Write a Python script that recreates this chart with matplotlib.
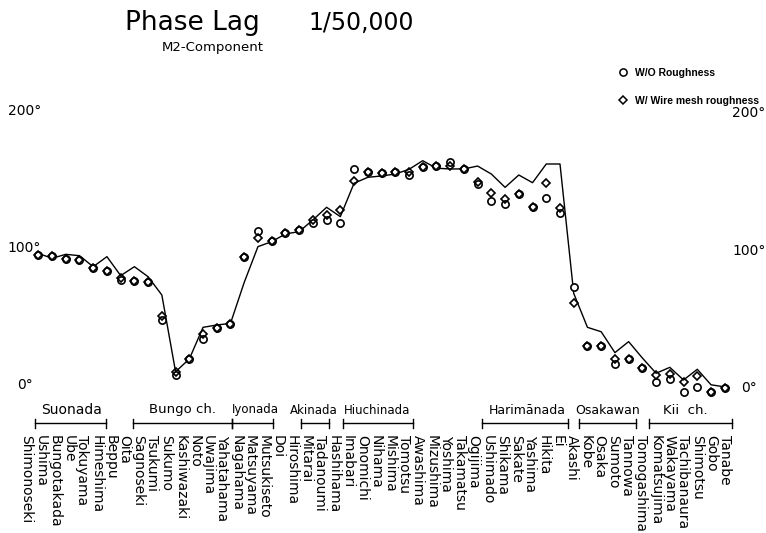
import numpy as np
import matplotlib
matplotlib.use("Agg")
import matplotlib.pyplot as plt
from matplotlib.transforms import blended_transform_factory
from matplotlib.lines import Line2D

# ---------------- data ----------------
stations = ["Shimonoseki", "Ushima", "Bungotakada", "Ube", "Tokuyama", "Himeshima",
            "Beppu", "Oita", "Sagnoseki", "Tsukumi", "Sukumo", "Kashiwazaki", "Noto",
            "Uwajima", "Yahatahama", "Nagahama", "Matsuyama", "Mutsukiseto", "Doi",
            "Hiroshima", "Mitarai", "Tadanoumi", "Hashihama", "Imabari", "Onomichi",
            "Nihama", "Mishima", "Tomotsu", "Awashima", "Mizushima", "Yoshima",
            "Takamatsu", "Ogijima", "Ushimado", "Shikama", "Sakate", "Yashima",
            "Hikita", "Ei", "Akashi", "Kobe", "Osaka", "Sumoto", "Tannowa",
            "Tomogashima", "Komatsujima", "Wakayama", "Tachibanaura", "Shimotsu",
            "Gobo", "Tanabe"]

# prototype (line)
prototype = [96.1, 92.5, 95.4, 94.4, 86.4, 93.7, 79.9, 86.4, 79.1, 65.8,
             10.0, 19.3, 42.3, 44.0, 45.2, 75.0, 101.0, 104.6, 110.2, 111.9,
             120.4, 129.6, 122.8, 147.1, 151.4, 152.4, 153.8, 157.2, 163.5, 158.0,
             157.5, 157.5, 159.6, 153.8, 144.1, 153.1, 147.5, 161.1, 161.1, 67.0,
             42.3, 39.1, 23.9, 31.9, 20.0, 8.9, 13.2, 4.0, 11.8, 0.5, -1.0]

# model without roughness (circles)
wo_rough = [94.9, 94.2, 92.0, 91.3, 85.2, 83.3, 76.5, 76.0, 75.0, 47.6,
            7.6, 19.3, 33.6, 42.0, 44.5, 93.5, 112.6, 105.3, 110.7, 113.1,
            118.0, 120.4, 118.4, 157.2, 155.5, 154.8, 155.5, 153.1, 159.1, 159.9,
            162.3, 157.2, 146.5, 134.4, 131.8, 139.1, 130.0, 136.6, 125.2, 71.9,
            28.7, 28.7, 15.4, 19.1, 12.5, 2.8, 4.5, -4.5, -1.3, -4.5, -2.0]

# model with wire mesh roughness (diamonds)
w_rough = [94.9, 94.2, 92.0, 91.3, 85.2, 83.3, 78.0, 76.0, 75.0, 50.5,
           10.0, 19.3, 37.2, 42.0, 44.5, 93.5, 107.1, 105.3, 110.7, 113.1,
           120.4, 124.0, 127.6, 148.9, 155.5, 154.8, 155.5, 155.5, 159.1, 159.9,
           159.6, 157.2, 148.2, 140.2, 135.6, 139.1, 130.0, 147.1, 128.9, 59.8,
           28.7, 28.7, 19.1, 19.1, 12.5, 7.6, 8.4, 2.8, 6.9, -4.5, -2.0]

regions = ["Suonada", "Bungo ch.", "Iyonada", "Akinada", "Hiuchinada",
           "Harimānada", "Osakawan", "Kii  ch."]
region_start = [-0.24, 6.9, 14.1, 19.1, 22.2, 32.3, 39.4, 44.5]
region_end = [4.93, 14.1, 17.1, 21.2, 27.3, 38.6, 43.5, 50.5]
region_text_x = [2.45, 10.5, 15.8, 20.1, 24.7, 35.6, 41.5, 47.1]
region_fs = [10, 9.5, 8.5, 8.5, 8.5, 9, 9, 9.5]

deg_ticks = [0, 100, 200]

# ---------------- figure ----------------
W, H = 766, 533
fig = plt.figure(figsize=(W / 100, H / 100), dpi=100)
ax = fig.add_axes([10 / W, (H - 400) / H, 740 / W, 300 / H])
ax.set_xlim(-2.061, 51.84)
ax.set_ylim(-10.55, 207.64)
ax.axis("off")

x = np.arange(len(stations))
ax.plot(x, prototype, color="black", lw=1.0, zorder=2)
ax.plot(x, wo_rough, linestyle="none", marker="o", ms=5.2, mfc="white",
        mec="black", mew=1.2, zorder=3)
ax.plot(x, w_rough, linestyle="none", marker="D", ms=4.0, mfc="none",
        mec="black", mew=1.2, zorder=4)

# degree labels
for v in deg_ticks:
    ax.text(-1.0, v, f"{v}°", ha="center", va="center", fontsize=10)
    ax.text(51.75, v - 2, f"{v}°", ha="center", va="center", fontsize=10)

# station labels
trans = blended_transform_factory(ax.transData, fig.transFigure)
label_x = np.linspace(-0.86, 50.04, len(stations))
for lx, name in zip(label_x, stations):
    ax.text(lx, 1 - 435 / H, name, rotation=270, ha="center", va="top",
            fontsize=10, transform=trans)

# region brackets
yb = 1 - 423 / H
dt = 4.5 / H
for name, a, b, tx, fs in zip(regions, region_start, region_end, region_text_x, region_fs):
    ax.plot([a, b], [yb, yb], color="black", lw=1.0, transform=trans, clip_on=False)
    for e in (a, b):
        ax.plot([e, e], [yb - dt, yb + dt], color="black", lw=1.0,
                transform=trans, clip_on=False)
    ax.text(tx, 1 - 410 / H, name, ha="center", va="center", fontsize=fs,
            transform=trans)

# titles
fig.text(125 / W, 1 - 23 / H, "Phase Lag", fontsize=19, ha="left", va="center")
fig.text(308 / W, 1 - 23 / H, "1/50,000", fontsize=17, ha="left", va="center")
fig.text(162 / W, 1 - 48 / H, "M2-Component", fontsize=9.5, ha="left", va="center")

# legend
handles = [Line2D([], [], linestyle="none", marker="o", ms=5.2, mfc="white",
                  mec="black", mew=1.1),
           Line2D([], [], linestyle="none", marker="D", ms=4.0, mfc="none",
                  mec="black", mew=1.1)]
leg = fig.legend(handles, ["W/O Roughness", "W/ Wire mesh roughness"],
                 loc="upper left", bbox_to_anchor=(619 / W, 1 - 68 / H),
                 frameon=False, handlelength=0.8, handletextpad=0.75,
                 labelspacing=1.7, borderaxespad=0, borderpad=0,
                 prop={"family": "Liberation Sans", "size": 7.5, "weight": "bold"})

fig.savefig("out.png", dpi=100)
